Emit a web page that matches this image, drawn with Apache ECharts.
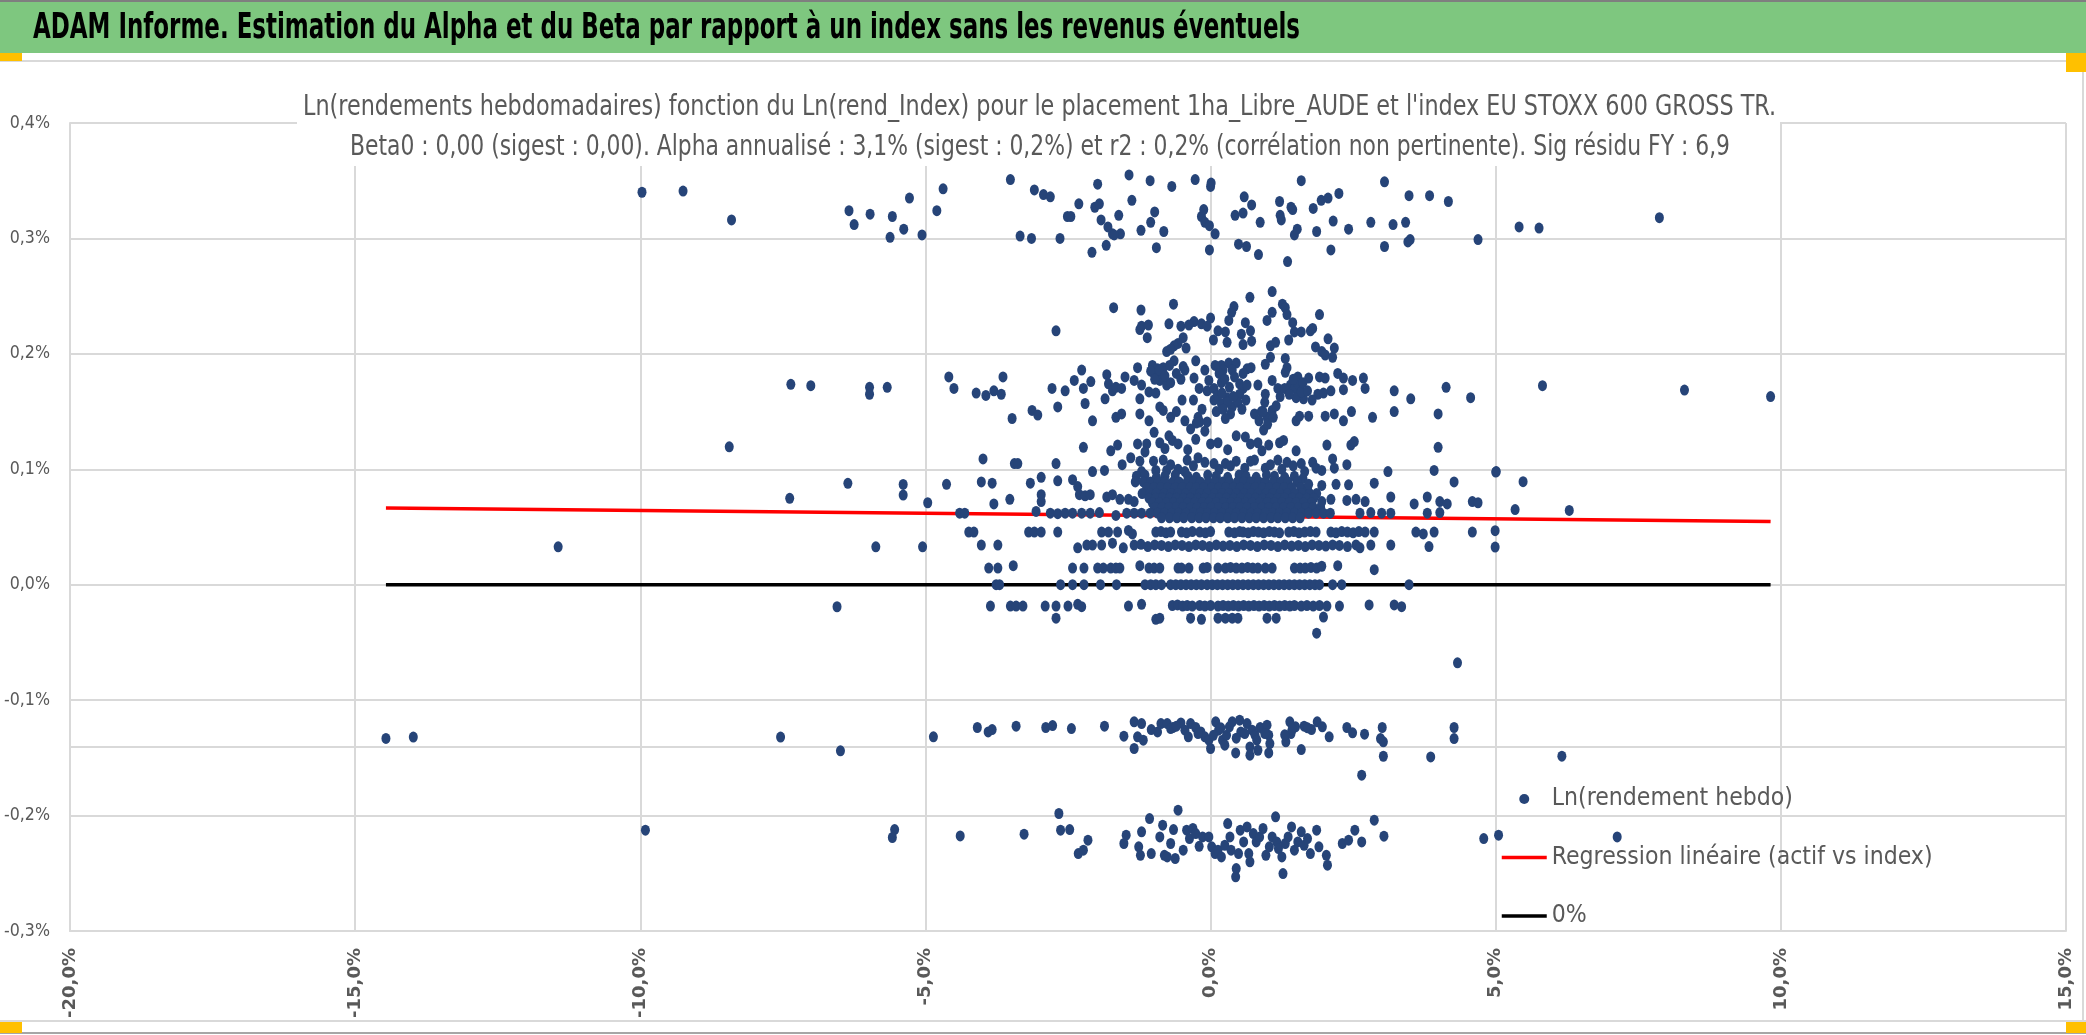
<!DOCTYPE html>
<html><head><meta charset="utf-8">
<script src="https://cdn.jsdelivr.net/npm/echarts@6/dist/echarts.min.js"></script>
<style>html,body{margin:0;padding:0;background:#fff;}#c{width:2086px;height:1035px;}</style>
</head><body><div id="c"></div>
<script>
// ---------- DATA (x = Ln(rend_Index) %, y = Ln(rendement hebdo) %) ----------
const pointsTopBand = [[-9.97,0.340],[-9.25,0.341],[-8.40,0.316],[-6.34,0.324],[-6.25,0.312],[-5.97,0.321],[-5.58,0.319],[-5.62,0.301],[-5.38,0.308],[-5.28,0.335],[-5.06,0.303],[-4.80,0.324],[-4.69,0.343],[-3.51,0.351],[-3.34,0.302],[-3.14,0.300],[-3.09,0.342],[-2.93,0.338],[-2.81,0.336],[-2.64,0.300],[-2.51,0.319],[-2.45,0.319],[-2.31,0.330],[-2.08,0.288],[-2.03,0.327],[-1.98,0.347],[-1.95,0.330],[-1.92,0.316],[-1.83,0.294],[-1.80,0.310],[-1.72,0.304],[-1.61,0.320],[-1.58,0.304],[-1.69,0.303],[-1.43,0.355],[-1.38,0.333],[-1.22,0.307],[-1.06,0.350],[-1.05,0.314],[-0.98,0.323],[-0.95,0.292],[-0.82,0.306],[-0.68,0.345],[-0.27,0.351],[-0.16,0.319],[-0.12,0.325],[-0.10,0.314],[0.00,0.345],[0.01,0.348],[-0.02,0.311],[0.08,0.304],[-0.02,0.290],[0.43,0.320],[0.49,0.295],[0.57,0.322],[0.59,0.336],[0.63,0.293],[0.72,0.329],[0.84,0.286],[0.87,0.314],[1.21,0.332],[1.22,0.320],[1.24,0.316],[1.35,0.280],[1.41,0.327],[1.44,0.325],[1.47,0.303],[1.52,0.308],[1.59,0.350],[1.80,0.326],[1.86,0.306],[1.94,0.333],[2.06,0.335],[2.11,0.290],[2.15,0.315],[2.25,0.339],[2.42,0.308],[2.81,0.314],[3.05,0.349],[3.05,0.293],[3.20,0.312],[3.42,0.314],[3.46,0.297],[3.50,0.299],[3.48,0.337],[3.84,0.337],[4.17,0.332],[4.69,0.299],[5.41,0.310],[5.76,0.309],[7.87,0.318]];

const pointsUpperCluster = [[1.08,0.254],[0.69,0.249],[-0.65,0.243],[-1.70,0.240],[-1.22,0.238],[1.26,0.243],[1.31,0.240],[0.41,0.241],[0.37,0.236],[1.08,0.236],[1.34,0.234],[1.91,0.234],[0.00,0.231],[0.32,0.229],[-0.29,0.228],[-0.16,0.226],[-0.06,0.224],[-0.73,0.226],[-1.21,0.224],[-1.09,0.225],[-1.24,0.221],[-1.11,0.214],[-0.52,0.224],[-0.38,0.225],[0.61,0.227],[0.99,0.229],[1.44,0.227],[1.47,0.219],[1.59,0.219],[1.75,0.220],[1.79,0.222],[0.13,0.220],[0.26,0.219],[0.54,0.217],[0.70,0.220],[0.05,0.212],[0.29,0.210],[0.57,0.208],[0.72,0.211],[1.37,0.212],[1.05,0.207],[1.14,0.210],[2.06,0.213],[1.84,0.206],[1.95,0.202],[2.01,0.199],[2.14,0.197],[2.17,0.205],[-0.48,0.214],[-0.57,0.209],[-0.64,0.207],[-0.77,0.202],[-0.70,0.204],[-0.43,0.205],[-2.71,0.220],
[1.05,0.197],[0.96,0.191],[1.31,0.196],[1.34,0.188],[1.31,0.184],[-0.26,0.194],[-0.64,0.194],[-0.48,0.189],[-1.28,0.188],[-1.02,0.190],[-0.93,0.187],[-0.83,0.188],[-0.99,0.183],[-0.93,0.180],[-0.89,0.177],[-0.10,0.186],[0.19,0.190],[0.32,0.192],[0.45,0.192],[0.22,0.186],[0.38,0.186],[0.64,0.187],[0.71,0.188],[0.57,0.183],[1.53,0.180],[1.72,0.179],[1.91,0.180],[2.01,0.179],[2.23,0.183],[2.33,0.179],[2.49,0.177],[2.68,0.179],[2.71,0.170],[3.22,0.168],[3.51,0.161],[4.13,0.171],[4.56,0.162],[-4.59,0.180],[-4.50,0.170],[-4.11,0.166],[-3.94,0.164],[-3.80,0.168],[-3.67,0.165],[-3.64,0.180],[-2.78,0.170],[-2.55,0.168],[-2.68,0.154],[-2.39,0.177],[-2.26,0.186],[-2.23,0.170],[-2.10,0.176],[-2.20,0.157],[-2.07,0.142],[-1.82,0.182],[-1.79,0.174],[-1.72,0.168],[-1.85,0.161],[-1.66,0.171],[-1.50,0.180],[-1.56,0.170],[-1.34,0.177],[-1.21,0.173],[-1.08,0.167],[-1.24,0.161],[-0.96,0.166],[-0.77,0.173],[-0.70,0.175],[-0.29,0.179],[-0.03,0.177],[-0.06,0.168],[0.06,0.170],[0.19,0.175],[0.51,0.174],[0.57,0.170],[0.64,0.173],[0.51,0.165],[0.83,0.173],[0.96,0.165],[1.08,0.177],[1.18,0.170],[1.40,0.173],[1.47,0.170],[1.53,0.174],[1.63,0.161],[1.50,0.162],[1.59,0.167],[1.88,0.165],[1.98,0.166],[2.11,0.168],[2.33,0.169],
[-1.24,0.148],[-1.08,0.142],[-0.89,0.154],[-0.83,0.151],[-0.70,0.145],[-1.66,0.145],[-1.56,0.148],[-3.13,0.151],[-3.03,0.147],[-3.48,0.144],[-0.45,0.142],[-0.22,0.145],[-0.19,0.141],[-0.06,0.141],[0.06,0.160],[0.19,0.157],[0.29,0.162],[0.38,0.154],[0.35,0.148],[0.26,0.144],[0.77,0.148],[0.89,0.150],[0.99,0.145],[1.08,0.151],[0.93,0.134],[1.50,0.142],[1.56,0.146],[1.72,0.146],[2.01,0.146],[2.17,0.148],[2.33,0.142],[2.47,0.150],[2.84,0.145],[3.22,0.150],[3.99,0.148],
[-2.23,0.119],[-1.75,0.116],[-1.63,0.121],[-1.28,0.122],[-1.12,0.122],[-0.99,0.132],[-0.89,0.123],[-0.73,0.129],[-0.67,0.125],[-0.57,0.122],[-0.26,0.126],[0.00,0.122],[0.13,0.123],[0.45,0.129],[0.61,0.128],[0.70,0.122],[0.83,0.123],[1.02,0.121],[1.21,0.123],[1.28,0.125],[2.04,0.121],[2.46,0.121],[2.52,0.124],[3.99,0.119],
[-3.99,0.109],[-3.44,0.105],[-3.38,0.105],[-2.71,0.105],[-2.07,0.098],[-1.86,0.099],[-1.24,0.107],[-0.83,0.108],[-0.41,0.108],[-0.22,0.110],[-1.21,0.098],[-0.96,0.099],[-0.77,0.099],[-0.57,0.100],[-0.45,0.098],[0.06,0.105],[0.26,0.105],[0.45,0.107],[0.77,0.108],[0.96,0.101],[1.18,0.108],[1.34,0.106],[1.59,0.105],[1.79,0.106],[1.85,0.101],[1.95,0.099],[2.14,0.109],[2.17,0.101],[2.39,0.104],[3.11,0.098],[3.92,0.099],[5.01,0.098],
[-4.63,0.087],[-4.02,0.089],[-3.83,0.088],[-3.16,0.088],[-2.97,0.093],[-2.68,0.090],[-2.42,0.091],[-2.33,0.085],[2.87,0.088],[4.27,0.089]];

const pointsUpperExtra = [[-1.05,0.185],[-0.98,0.178],[-0.90,0.186],[-0.80,0.181],[-0.72,0.190],[-0.60,0.183],[-0.52,0.178],[-0.45,0.186],[0.08,0.190],[0.15,0.183],[0.25,0.178],[0.33,0.171],[0.42,0.180],[0.48,0.158],[0.55,0.152],[0.62,0.160],[0.12,0.164],[0.20,0.166],[0.30,0.158],[0.40,0.163],[0.10,0.150],[0.22,0.152],[0.85,0.142],[0.92,0.150],[1.00,0.139],[1.10,0.145],[1.15,0.155],[0.95,0.158],[1.22,0.163],[1.30,0.170],[1.38,0.165],[1.45,0.178],[1.62,0.175],[1.70,0.168],[1.78,0.160],[-0.15,0.152],[-0.25,0.140],[-0.10,0.133],[-0.30,0.160],[-0.20,0.170],[-0.50,0.160],[-0.60,0.150],[-0.35,0.135],[-1.00,0.107],[-0.70,0.104],[-0.30,0.103],[-0.10,0.106],[0.15,0.100],[0.35,0.103],[0.60,0.101],[0.70,0.107],[1.05,0.104],[1.25,0.100],[1.45,0.103],[1.65,0.098],[-1.15,0.115],[-0.80,0.118],[-0.40,0.117],[0.30,0.117],[0.90,0.116],[1.50,0.116],[-1.40,0.110],[-1.55,0.104]];

const pointsCore = [[-1.30,0.094],[-1.15,0.095],[-0.95,0.093],[-0.80,0.094],[-0.62,0.095],[-0.40,0.094],[-0.25,0.093],[-0.05,0.095],[0.10,0.094],[0.30,0.093],[0.50,0.095],[0.62,0.094],[0.80,0.093],[0.98,0.095],[1.12,0.094],[1.30,0.093],[1.47,0.094],[1.62,0.092],
[-1.32,0.089],[-1.18,0.089],[-1.05,0.089],[-0.92,0.089],[-0.80,0.089],[-0.66,0.089],[-0.55,0.089],[-0.41,0.089],[-0.30,0.089],[-0.18,0.089],[-0.04,0.089],[0.08,0.089],[0.21,0.089],[0.33,0.089],[0.47,0.089],[0.58,0.089],[0.71,0.089],[0.85,0.089],[0.96,0.089],[1.10,0.089],[1.23,0.089],[1.36,0.089],[1.52,0.089],
[-1.12,0.084],[-0.99,0.084],[-0.87,0.084],[-0.75,0.084],[-0.62,0.084],[-0.50,0.084],[-0.36,0.084],[-0.25,0.084],[-0.12,0.084],[0.02,0.084],[0.14,0.084],[0.27,0.084],[0.40,0.084],[0.52,0.084],[0.65,0.084],[0.78,0.084],[0.91,0.084],[1.03,0.084],[1.16,0.084],[1.29,0.084],[1.42,0.084],[1.58,0.084],[1.70,0.084],
[-1.20,0.079],[-1.06,0.079],[-0.95,0.079],[-0.81,0.079],[-0.69,0.079],[-0.57,0.079],[-0.44,0.079],[-0.31,0.079],[-0.19,0.079],[-0.06,0.079],[0.07,0.079],[0.20,0.079],[0.32,0.079],[0.45,0.079],[0.59,0.079],[0.71,0.079],[0.83,0.079],[0.97,0.079],[1.09,0.079],[1.22,0.079],[1.35,0.079],[1.48,0.079],[1.61,0.079],[1.74,0.079],[1.86,0.079],
[-1.08,0.075],[-0.96,0.075],[-0.84,0.075],[-0.72,0.075],[-0.60,0.075],[-0.47,0.075],[-0.35,0.075],[-0.22,0.075],[-0.10,0.075],[0.03,0.075],[0.16,0.075],[0.28,0.075],[0.41,0.075],[0.53,0.075],[0.66,0.075],[0.79,0.075],[0.92,0.075],[1.04,0.075],[1.17,0.075],[1.30,0.075],[1.44,0.075],[1.56,0.075],[1.69,0.075],[1.81,0.075],
[-1.02,0.071],[-0.90,0.071],[-0.77,0.071],[-0.65,0.071],[-0.53,0.071],[-0.40,0.071],[-0.28,0.071],[-0.15,0.071],[-0.03,0.071],[0.10,0.071],[0.23,0.071],[0.36,0.071],[0.48,0.071],[0.61,0.071],[0.73,0.071],[0.86,0.071],[0.99,0.071],[1.12,0.071],[1.25,0.071],[1.38,0.071],[1.50,0.071],[1.63,0.071],[1.77,0.071],
[-0.98,0.067],[-0.85,0.067],[-0.73,0.067],[-0.60,0.067],[-0.48,0.067],[-0.35,0.067],[-0.24,0.067],[-0.11,0.067],[0.01,0.067],[0.14,0.067],[0.27,0.067],[0.39,0.067],[0.52,0.067],[0.64,0.067],[0.77,0.067],[0.90,0.067],[1.02,0.067],[1.15,0.067],[1.28,0.067],[1.41,0.067],[1.54,0.067],[1.67,0.067],[1.80,0.067],[1.93,0.067],
[-1.06,0.062],[-0.93,0.062],[-0.81,0.062],[-0.68,0.062],[-0.56,0.062],[-0.43,0.062],[-0.30,0.062],[-0.18,0.062],[-0.05,0.062],[0.07,0.062],[0.20,0.062],[0.33,0.062],[0.45,0.062],[0.58,0.062],[0.71,0.062],[0.83,0.062],[0.96,0.062],[1.09,0.062],[1.21,0.062],[1.34,0.062],[1.47,0.062],[1.60,0.062],[1.72,0.062],[1.85,0.062],[1.98,0.062],[2.10,0.062],
[-0.86,0.058],[-0.72,0.058],[-0.59,0.058],[-0.47,0.058],[-0.33,0.058],[-0.20,0.058],[-0.08,0.058],[0.05,0.058],[0.17,0.058],[0.30,0.058],[0.42,0.058],[0.55,0.058],[0.68,0.058],[0.80,0.058],[0.93,0.058],[1.06,0.058],[1.18,0.058],[1.31,0.058],[1.44,0.058],[1.57,0.058]];

const pointsMidRows = [[-4.40,0.0620],[-4.31,0.0620],[-3.06,0.0635],[-2.81,0.0620],[-2.68,0.0615],[-2.55,0.0620],[-2.42,0.0620],[-2.26,0.0620],[-2.11,0.0620],[-1.95,0.0625],[-1.66,0.0600],[-1.47,0.0620],[-1.34,0.0620],[-1.21,0.0620],[2.62,0.0620],[2.81,0.0625],[3.00,0.0620],[3.16,0.0620],[3.80,0.0620],[4.02,0.0625],
[-3.80,0.0700],[-3.52,0.0740],[-2.97,0.0720],[-2.97,0.0780],[-2.30,0.0780],[-2.20,0.0770],[-2.11,0.0780],[-1.82,0.0760],[-1.72,0.0780],[-1.59,0.0740],[-1.44,0.0740],[-1.34,0.0720],[1.95,0.0720],[2.11,0.0740],[2.39,0.0730],[2.55,0.0740],[2.71,0.0720],[3.16,0.0760],[3.57,0.0700],[3.80,0.0760],[4.02,0.0720],[4.15,0.0700],[4.59,0.0720],[4.69,0.0710],
[1.72,0.0870],[1.95,0.0860],[2.20,0.0870],[2.42,0.0865],
[-4.24,0.0456],[-4.15,0.0456],[-3.19,0.0456],[-3.09,0.0456],[-2.97,0.0456],[-2.68,0.0456],[-1.91,0.0456],[-1.79,0.0456],[-1.63,0.0456],[-1.44,0.0470],[-1.37,0.0440],[-0.96,0.0456],[-0.87,0.0460],[-0.78,0.0450],[-0.70,0.0456],[-0.51,0.0456],[-0.42,0.0450],[-0.32,0.0460],[-0.19,0.0456],[-0.09,0.0450],[0.00,0.0460],[0.32,0.0456],[0.42,0.0450],[0.51,0.0460],[0.57,0.0456],[0.66,0.0450],[0.75,0.0460],[0.84,0.0456],[0.93,0.0450],[1.03,0.0460],[1.12,0.0456],[1.21,0.0450],[1.37,0.0456],[1.46,0.0460],[1.55,0.0450],[1.65,0.0456],[1.75,0.0460],[1.85,0.0456],[2.11,0.0456],[2.20,0.0450],[2.30,0.0460],[2.40,0.0456],[2.50,0.0450],[2.60,0.0460],[2.71,0.0456],[2.87,0.0456],[3.60,0.0456],[3.73,0.0440],[3.92,0.0456],[4.59,0.0456],
[-4.02,0.0343],[-3.73,0.0343],[-2.33,0.0320],[-2.17,0.0343],[-2.07,0.0343],[-1.91,0.0343],[-1.72,0.0360],[-1.53,0.0320],[-1.34,0.0343],[-1.22,0.0350],[-1.10,0.0330],[-0.98,0.0345],[-0.86,0.0340],[-0.74,0.0330],[-0.62,0.0345],[-0.50,0.0340],[-0.38,0.0330],[-0.26,0.0345],[-0.14,0.0340],[-0.02,0.0330],[0.10,0.0345],[0.22,0.0335],[0.34,0.0340],[0.46,0.0330],[0.58,0.0345],[0.70,0.0340],[0.82,0.0330],[0.94,0.0345],[1.06,0.0340],[1.18,0.0330],[1.30,0.0345],[1.42,0.0335],[1.54,0.0340],[1.66,0.0330],[1.78,0.0345],[1.90,0.0340],[2.02,0.0335],[2.14,0.0345],[2.26,0.0340],[2.40,0.0330],[2.55,0.0345],[2.62,0.0320],[2.81,0.0343],[3.16,0.0343],[3.83,0.0330]];

const pointsZeroRows = [[-3.89,0.0144],[-3.73,0.0144],[-3.46,0.0165],[-2.42,0.0144],[-2.22,0.0144],[-1.98,0.0144],[-1.88,0.0144],[-1.75,0.0144],[-1.66,0.0144],[-1.59,0.0144],[-1.24,0.0165],[-1.08,0.0144],[-0.99,0.0144],[-0.89,0.0144],[-0.57,0.0144],[-0.51,0.0144],[-0.38,0.0144],[-0.13,0.0144],[-0.06,0.0150],[0.13,0.0144],[0.26,0.0144],[0.35,0.0150],[0.45,0.0144],[0.55,0.0144],[0.65,0.0150],[0.74,0.0144],[0.83,0.0144],[0.96,0.0144],[1.08,0.0144],[1.47,0.0144],[1.57,0.0144],[1.66,0.0144],[1.76,0.0150],[1.86,0.0144],[1.95,0.0160],[2.23,0.0165],[2.87,0.0130],
[-3.76,0],[-3.70,0],[-2.63,0],[-2.42,0],[-2.22,0],[-1.93,0],[-1.65,0],[-1.15,0],[-1.05,0],[-0.96,0],[-0.86,0],[-0.70,0],[-0.61,0],[-0.52,0],[-0.43,0],[-0.34,0],[-0.25,0],[-0.16,0],[-0.06,0],[0.03,0],[0.12,0],[0.21,0],[0.30,0],[0.39,0],[0.48,0],[0.57,0],[0.66,0],[0.75,0],[0.84,0],[0.93,0],[1.02,0],[1.11,0],[1.20,0],[1.29,0],[1.38,0],[1.47,0],[1.56,0],[1.65,0],[1.74,0],[1.83,0],[1.91,0],[2.14,0],[2.30,0],[3.48,0],
[-3.86,-0.0185],[-3.51,-0.0185],[-3.41,-0.0185],[-3.29,-0.0185],[-2.90,-0.0185],[-2.71,-0.0185],[-2.50,-0.0185],[-2.33,-0.0170],[-2.26,-0.0190],[-1.44,-0.0185],[-1.21,-0.0170],[-0.67,-0.0180],[-0.58,-0.0175],[-0.49,-0.0185],[-0.41,-0.0180],[-0.32,-0.0185],[-0.19,-0.0180],[-0.10,-0.0185],[0.00,-0.0180],[0.13,-0.0185],[0.22,-0.0180],[0.31,-0.0185],[0.40,-0.0180],[0.49,-0.0185],[0.58,-0.0180],[0.67,-0.0185],[0.76,-0.0180],[0.85,-0.0185],[0.94,-0.0180],[1.03,-0.0185],[1.12,-0.0180],[1.21,-0.0185],[1.30,-0.0180],[1.39,-0.0185],[1.47,-0.0180],[1.59,-0.0185],[1.69,-0.0180],[1.80,-0.0185],[1.91,-0.0180],[2.04,-0.0185],[2.26,-0.0185],[2.78,-0.0175],[3.22,-0.0175],[3.35,-0.0190],
[-2.71,-0.0290],[-0.96,-0.0300],[-0.89,-0.0290],[-0.35,-0.0290],[-0.16,-0.0300],[0.13,-0.0290],[0.26,-0.0290],[0.38,-0.0290],[0.48,-0.0290],[0.99,-0.0290],[1.15,-0.0290],[1.98,-0.0280],[1.86,-0.0420]];

const pointsSparse = [[-7.36,0.1736],[-7.01,0.1724],[-5.98,0.171],[-5.98,0.165],[-5.67,0.171],[-8.44,0.1195],[-6.36,0.0878],[-5.39,0.0869],[-5.39,0.0777],[-7.38,0.0748],[-4.96,0.071],[-11.44,0.0328],[-5.87,0.0328],[-5.05,0.0328],[-6.55,-0.0191],
[5.82,0.1724],[8.31,0.1686],[9.82,0.163],[5.0,0.0976],[5.48,0.0893],[5.34,0.0651],[6.29,0.0644],[4.99,0.0468],[4.99,0.0326],[4.33,-0.0677],[6.16,-0.1485]];

const pointsNegBand1 = [[-14.46,-0.1332],[-13.98,-0.132],[-7.54,-0.132],[-6.49,-0.1439],[-4.86,-0.1318],[-4.09,-0.1237],[-3.90,-0.1275],[-3.83,-0.1255],[-3.41,-0.1226],[-2.89,-0.1237],[-2.77,-0.1220],[-2.44,-0.1246],[-1.86,-0.1226],[-1.52,-0.1312],[-1.34,-0.1188],[-1.21,-0.1203],[-1.28,-0.1318],[-1.18,-0.1347],[-1.34,-0.1419],
[-1.04,-0.1255],[-0.93,-0.1275],[-0.87,-0.1203],[-0.76,-0.1203],[-0.66,-0.1237],[-0.52,-0.1197],[-0.45,-0.1260],[-0.39,-0.1318],[-0.35,-0.1203],[-0.26,-0.1237],[-0.17,-0.1275],[-0.10,-0.1318],[-0.03,-0.1347],[0.00,-0.1419],[0.09,-0.1188],[0.14,-0.1260],[0.21,-0.1347],[0.28,-0.1304],[0.33,-0.1231],[0.38,-0.1188],[0.44,-0.1457],[0.51,-0.1174],[0.53,-0.1275],[0.64,-0.1203],[0.69,-0.1405],[0.69,-0.1477],[0.73,-0.1260],[0.78,-0.1304],[0.81,-0.1347],[0.83,-0.1434],[0.87,-0.1237],[0.99,-0.1217],[1.02,-0.1304],[1.04,-0.1376],[1.02,-0.1457],[1.32,-0.1361],[1.39,-0.1188],[1.41,-0.1289],[1.49,-0.1231],[1.59,-0.1428],[1.64,-0.1226],[1.77,-0.1255],[1.87,-0.1188],[1.96,-0.1231],[2.08,-0.1318],[2.39,-0.1237],[2.49,-0.1283],[2.70,-0.1295],[3.01,-0.1237],[2.98,-0.1333],[3.03,-0.1361],[3.03,-0.1486],[2.65,-0.1650],[3.86,-0.1492],[4.27,-0.1237],[4.27,-0.1333],
[-0.70,-0.1246],[-0.60,-0.1226],[-0.22,-0.1290],[0.05,-0.1305],[0.18,-0.1240],[0.45,-0.1330],[0.60,-0.1290],[0.95,-0.1290],[1.43,-0.1255],[1.70,-0.1240],[0.25,-0.1390],[1.30,-0.1300]];

const pointsNegBand2 = [[-9.91,-0.2127],[-5.54,-0.2121],[-5.58,-0.2190],[-4.39,-0.2176],[-3.27,-0.2161],[-2.66,-0.1982],[-2.63,-0.2127],[-2.47,-0.2121],[-2.32,-0.2329],[-2.23,-0.2300],[-2.15,-0.2213],[-1.48,-0.2170],[-1.52,-0.2242],[-1.21,-0.2141],[-1.26,-0.2271],[-1.23,-0.2344],[-1.07,-0.2026],[-1.04,-0.2329],[-0.89,-0.2185],[-0.84,-0.2083],[-0.81,-0.2344],[-0.76,-0.2358],[-0.70,-0.2242],[-0.65,-0.2121],[-0.62,-0.2372],[-0.57,-0.1953],[-0.48,-0.2300],[-0.42,-0.2127],[-0.37,-0.2199],[-0.31,-0.2112],[-0.26,-0.2156],[-0.20,-0.2266],[-0.14,-0.2185],[-0.03,-0.2185],[0.02,-0.2271],[0.08,-0.2329],[0.13,-0.2300],[0.19,-0.2358],[0.25,-0.2257],[0.30,-0.2069],[0.34,-0.2185],[0.36,-0.2300],[0.44,-0.2531],[0.45,-0.2459],[0.49,-0.2329],[0.52,-0.2127],[0.58,-0.2228],[0.64,-0.2098],[0.67,-0.2329],[0.69,-0.2401],[0.75,-0.2156],[0.80,-0.2228],[0.86,-0.2185],[0.92,-0.2112],[0.97,-0.2344],[1.03,-0.2271],[1.08,-0.2185],[1.14,-0.2011],[1.16,-0.2228],[1.19,-0.2286],[1.25,-0.2358],[1.27,-0.2502],[1.31,-0.2242],[1.36,-0.2185],[1.42,-0.2098],[1.47,-0.2300],[1.53,-0.2228],[1.59,-0.2141],[1.64,-0.2257],[1.70,-0.2199],[1.75,-0.2329],[1.86,-0.2127],[1.90,-0.2271],[2.03,-0.2344],[2.05,-0.2430],[2.31,-0.2242],[2.42,-0.2213],[2.53,-0.2127],[2.65,-0.2228],[2.87,-0.2040],[3.04,-0.2179],[4.79,-0.2199],[5.05,-0.2170],[7.13,-0.2185]];

const regressionX = [-14.46, 9.82];
const regressionY = [0.0664, 0.0547];
const zeroX = [-14.46, 9.82];
const zeroY = [0, 0];
const refLineY = -0.1448;

const xAxisMin = -20, xAxisMax = 15, xAxisStep = 5;
const yAxisMin = -0.3, yAxisMax = 0.4, yAxisStep = 0.1;

const mainTitle = "ADAM Informe. Estimation du Alpha et du Beta par rapport à un index sans les revenus éventuels";
const chartTitle1 = "Ln(rendements hebdomadaires) fonction du Ln(rend_Index) pour le placement 1ha_Libre_AUDE et l'index EU STOXX 600 GROSS TR.";
const chartTitle2 = "Beta0 : 0,00 (sigest : 0,00). Alpha annualisé : 3,1% (sigest : 0,2%) et r2 : 0,2% (corrélation non pertinente). Sig résidu FY : 6,9";
const seriesNames = ['Ln(rendement hebdo)', 'Regression linéaire (actif vs index)', '0%'];

// ---------- RENDER ----------
const NARROW = "'Liberation Sans Narrow','Arial Narrow','DejaVu Sans Condensed','Open Sans',sans-serif";
const cvs = document.createElement('canvas').getContext('2d');
function tw(t, size, weight, fam) { cvs.font = (weight || 'normal') + ' ' + size + 'px ' + fam; return cvs.measureText(t).width; }

const sMain = 1267 / tw(mainTitle, 36, 'bold', NARROW);
const sT1 = 1473 / tw(chartTitle1, 28, 'normal', NARROW);
const sT2 = 1380 / tw(chartTitle2, 28, 'normal', NARROW);
const yLabSize = Math.min(21, 21 * 46 / tw('-0,3%', 21, 'normal', NARROW));
const legSize = Math.min(28, 25 * 381 / tw(seriesNames[1], 25, 'normal', NARROW));

const fmt = v => v.toFixed(1).replace('.', ',') + '%';
const allPoints = [].concat(pointsTopBand, pointsUpperCluster, pointsUpperExtra, pointsCore, pointsMidRows, pointsZeroRows, pointsSparse, pointsNegBand1, pointsNegBand2);
const ellipse = 'path://M0,5a4,5 0 1,0 8,0a4,5 0 1,0 -8,0z';
const noFill = 'rgba(0,0,0,0)';

const chart = echarts.init(document.getElementById('c'), null, { renderer: 'canvas' });
chart.setOption({
  backgroundColor: '#ffffff',
  animation: false,
  grid: { left: 70, right: 20, top: 123, bottom: 104, containLabel: false },
  xAxis: {
    type: 'value', min: xAxisMin, max: xAxisMax, interval: xAxisStep,
    axisLine: { show: true, onZero: false, lineStyle: { color: '#d9d9d9', width: 2 } },
    axisTick: { show: false },
    splitLine: { show: true, lineStyle: { color: '#d9d9d9', width: 2 } },
    axisLabel: { rotate: 90, margin: 17, formatter: fmt, color: '#595959', fontFamily: 'DejaVu Sans', fontWeight: 'bold', fontSize: 18 }
  },
  yAxis: {
    type: 'value', min: yAxisMin, max: yAxisMax, interval: yAxisStep,
    axisLine: { show: true, onZero: false, lineStyle: { color: '#d9d9d9', width: 2 } },
    axisTick: { show: false },
    splitLine: { show: true, lineStyle: { color: '#d9d9d9', width: 2 } },
    axisLabel: { margin: 20, formatter: fmt, color: '#595959', fontFamily: NARROW, fontSize: yLabSize }
  },
  legend: {
    orient: 'vertical', left: 1500, top: 784, padding: 0,
    itemWidth: 45, itemHeight: 10, itemGap: 28.5,
    lineStyle: { width: 3.5 },
    textStyle: { color: '#595959', fontFamily: NARROW, fontSize: legSize, lineHeight: 30 },
    data: [{ name: seriesNames[0], icon: 'circle' }, { name: seriesNames[1] }, { name: seriesNames[2] }]
  },
  series: [
    {
      name: seriesNames[1], type: 'line', z: 3, symbol: 'none', silent: true,
      data: regressionX.map((x, i) => [x, regressionY[i]]),
      lineStyle: { color: '#ff0000', width: 3.5 }, itemStyle: { color: noFill, borderColor: noFill }
    },
    {
      name: seriesNames[2], type: 'line', z: 3, symbol: 'none', silent: true,
      data: zeroX.map((x, i) => [x, zeroY[i]]),
      lineStyle: { color: '#000000', width: 3.5 }, itemStyle: { color: noFill, borderColor: noFill }
    },
    {
      name: 'ref', type: 'line', z: 1, data: [], silent: true,
      markLine: { silent: true, symbol: ['none', 'none'], label: { show: false },
        lineStyle: { color: '#d9d9d9', width: 2, type: 'solid' }, data: [{ yAxis: refLineY }] }
    },
    {
      name: seriesNames[0], type: 'scatter', z: 5,
      data: allPoints, symbol: ellipse, symbolSize: [9, 11],
      itemStyle: { color: '#264478', opacity: 1 }
    }
  ],
  graphic: [
    { type: 'rect', z: 10, silent: true, shape: { x: 0, y: 0, width: 2086, height: 53 }, style: { fill: '#7ec77f' } },
    { type: 'rect', z: 11, silent: true, shape: { x: 0, y: 0, width: 2086, height: 2 }, style: { fill: '#7f7f7f' } },
    { type: 'text', z: 12, silent: true, x: 33, y: 29, scaleX: sMain,
      style: { text: mainTitle, fontFamily: NARROW, fontWeight: 'bold', fontSize: 36, fill: '#000000', verticalAlign: 'middle', align: 'left' } },
    { type: 'rect', z: 10, silent: true, shape: { x: 0, y: 60, width: 2086, height: 2 }, style: { fill: '#d9d9d9' } },
    { type: 'rect', z: 11, silent: true, shape: { x: 0, y: 53, width: 22, height: 8 }, style: { fill: '#ffc000' } },
    { type: 'rect', z: 11, silent: true, shape: { x: 2066, y: 53, width: 20, height: 19 }, style: { fill: '#ffc000' } },
    { type: 'rect', z: 10, silent: true, shape: { x: 2082, y: 62, width: 2, height: 958 }, style: { fill: '#d9d9d9' } },
    { type: 'rect', z: 10, silent: true, shape: { x: 0, y: 1020, width: 2086, height: 2 }, style: { fill: '#d9d9d9' } },
    { type: 'rect', z: 10, silent: true, shape: { x: 0, y: 1032, width: 2086, height: 2 }, style: { fill: '#a6a6a6' } },
    { type: 'rect', z: 11, silent: true, shape: { x: 0, y: 1022, width: 22, height: 11 }, style: { fill: '#ffc000' } },
    { type: 'rect', z: 11, silent: true, shape: { x: 2066, y: 1022, width: 20, height: 11 }, style: { fill: '#ffc000' } },
    { type: 'rect', z: 10, silent: true, shape: { x: 297, y: 88, width: 1483, height: 78 }, style: { fill: '#ffffff' } },
    { type: 'text', z: 12, silent: true, x: 303, y: 108, scaleX: sT1,
      style: { text: chartTitle1, fontFamily: NARROW, fontSize: 28, fill: '#595959', verticalAlign: 'middle', align: 'left' } },
    { type: 'text', z: 12, silent: true, x: 350, y: 148, scaleX: sT2,
      style: { text: chartTitle2, fontFamily: NARROW, fontSize: 28, fill: '#595959', verticalAlign: 'middle', align: 'left' } }
  ]
});
</script>
</body></html>
